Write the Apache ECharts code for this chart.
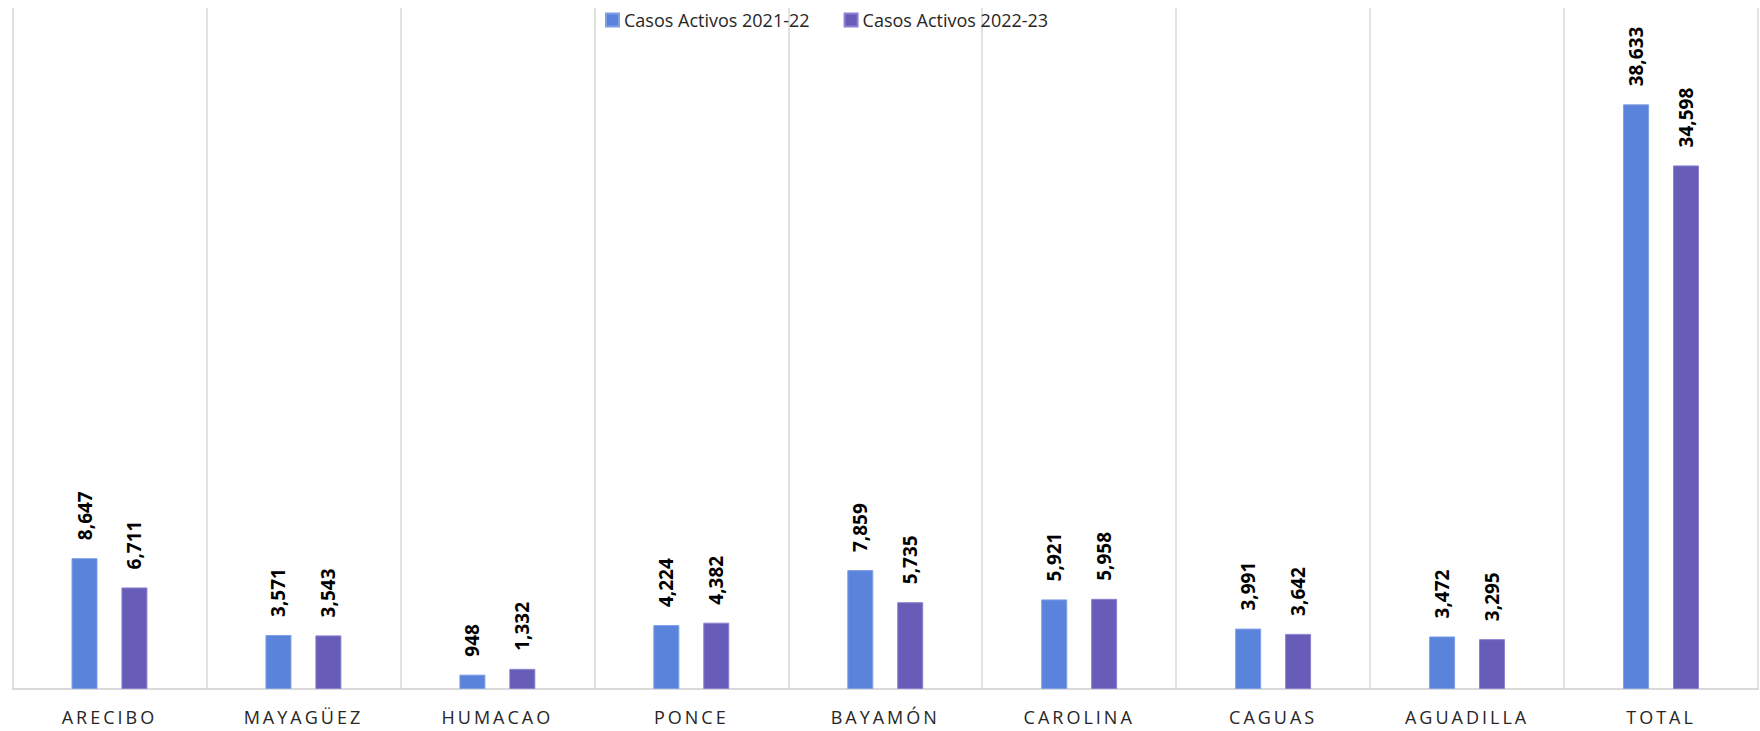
<!DOCTYPE html>
<html>
<head>
<meta charset="utf-8">
<script src="https://cdn.jsdelivr.net/npm/echarts@6/dist/echarts.min.js"></script>
<style>
html,body{margin:0;padding:0;background:#fff;}
#chart{width:1760px;height:731px;}
</style>
</head>
<body>
<div id="chart"></div>
<script>
const categories = ['ARECIBO','MAYAGÜEZ','HUMACAO','PONCE','BAYAMÓN','CAROLINA','CAGUAS','AGUADILLA','TOTAL'];
const seriesNames = ['Casos Activos 2021-22','Casos Activos 2022-23'];
const activos2122 = [8647,3571,948,4224,7859,5921,3991,3472,38633];
const activos2223 = [6711,3543,1332,4382,5735,5958,3642,3295,34598];

const chart = echarts.init(document.getElementById('chart'), null, {renderer:'svg'});
const FONT = "'Open Sans', 'Noto Sans', sans-serif";
const labelCfg = {
  show:true, position:'top', rotate:90, align:'left', verticalAlign:'middle',
  distance:18, fontFamily:FONT, fontWeight:'bold', fontSize:19, color:'#000',
  formatter: p => p.value.toLocaleString('en-US')
};
chart.setOption({
  animation:false,
  legend:{
    data:seriesNames, left:600, top:6, itemWidth:13, itemHeight:13, itemGap:34,
    icon:'rect',
    textStyle:{fontFamily:FONT, fontSize:18, color:'#262626'}
  },
  grid:{left:12.5, right:2, top:8, bottom:42, containLabel:false},
  xAxis:{
    type:'category', data:categories,
    axisLine:{lineStyle:{color:'#d9d9d9', width:2}},
    axisTick:{show:false},
    splitLine:{show:true, lineStyle:{color:'#d9d9d9', width:1.5}},
    axisLabel:{fontFamily:FONT, fontSize:18, color:'#262626', margin:19}
  },
  yAxis:{type:'value', min:0, max:45000, show:false, splitLine:{show:false}},
  series:[
    {name:seriesNames[0], type:'bar', data:activos2122, barWidth:26, barGap:'92%',
     itemStyle:{color:'#5A83DB', borderColor:'#7f9fe6', borderWidth:1}, label:labelCfg},
    {name:seriesNames[1], type:'bar', data:activos2223, barWidth:26,
     itemStyle:{color:'#675DB8', borderColor:'#8a82d0', borderWidth:1}, label:labelCfg}
  ]
});
function spacing(){
  document.querySelectorAll('#chart text').forEach(t=>{
    if(categories.indexOf(t.textContent.trim())>=0){ t.style.letterSpacing='3px'; }
  });
}
spacing();
chart.on('finished', spacing);
setTimeout(spacing,50);
</script>
</body>
</html>
